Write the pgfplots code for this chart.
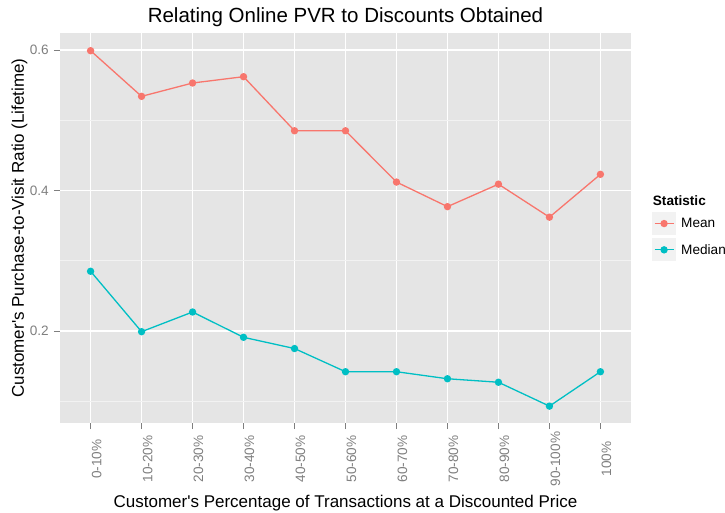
\documentclass[border=0pt]{standalone}
\usepackage{fontspec}
\setmainfont{Liberation Sans}
\usepackage{pgfplots}
\usepackage{pgfplotstable}
\pgfplotsset{compat=1.18}
\definecolor{meanc}{HTML}{F8766D}
\definecolor{medc}{HTML}{00BFC4}
\definecolor{panelbg}{HTML}{E5E5E5}
\definecolor{minorg}{HTML}{F2F2F2}
\definecolor{keybg}{HTML}{F2F2F2}
\definecolor{tickg}{HTML}{7F7F7F}
\pgfplotstableread{
x mean median
0 0.599 0.285
1 0.534 0.199
2 0.553 0.227
3 0.562 0.191
4 0.485 0.175
5 0.485 0.142
6 0.412 0.142
7 0.377 0.132
8 0.409 0.127
9 0.362 0.093
10 0.423 0.142
}\datatable
\begin{document}
\begin{tikzpicture}
\useasboundingbox (0,0) rectangle (725bp,513bp);
\begin{axis}[
  at={(60bp,90bp)}, anchor=south west,
  scale only axis, width=571bp, height=390bp,
  xmin=-0.6, xmax=10.6, ymin=0.069, ymax=0.6242,
  axis background/.style={fill=panelbg},
  axis line style={draw=none},
  tick pos=left, tick align=outside,
  major tick length=6bp, minor tick length=0pt,
  tick style={draw=tickg, line width=0.8bp},
  xtick={0,1,2,3,4,5,6,7,8,9,10},
  xticklabels={0-10\%,10-20\%,20-30\%,30-40\%,40-50\%,50-60\%,60-70\%,70-80\%,80-90\%,90-100\%,100\%},
  ytick={0.2,0.4,0.6}, yticklabels={0.2,0.4,0.6},
  minor ytick={0.1,0.3,0.5},
  xmajorgrids, ymajorgrids, yminorgrids,
  major grid style={draw=white, line width=1.1bp},
  minor grid style={draw=minorg, line width=0.6bp},
  x tick label style={yshift=-30bp, xshift=6bp, rotate=90, anchor=center, inner sep=0pt,
     font=\fontsize{13.6bp}{16bp}\selectfont, text=tickg},
  y tick label style={anchor=east, inner sep=0pt, xshift=-5bp,
     font=\fontsize{13.6bp}{16bp}\selectfont, text=tickg},
  /pgf/number format/assume math mode=true,
  title={Relating Online PVR to Discounts Obtained},
  title style={at={(axis description cs:0.5,1.0128)}, anchor=base, inner sep=0pt,
     font=\fontsize{20.5bp}{24bp}\selectfont},
  xlabel={Customer\textquotesingle s Percentage of Transactions at a Discounted Price},
  xlabel style={at={(axis description cs:0.5,-0.2154)}, anchor=base, inner sep=0pt,
     font=\fontsize{17bp}{20bp}\selectfont},
  ylabel={Customer\textquotesingle s Purchase-to-Visit Ratio (Lifetime)},
  ylabel style={at={(axis description cs:-0.0709,0.5)}, anchor=center, inner sep=0pt,
     font=\fontsize{17bp}{20bp}\selectfont},
  legend cell align=left,
  legend style={at={(axis description cs:1.0363,0.5418)}, anchor=north west,
     draw=none, fill=none, inner sep=0pt, row sep=3bp, column sep=5bp,
     nodes={inner sep=0pt}, font=\fontsize{13.6bp}{16bp}\selectfont},
  legend image code/.code={
     \fill[keybg] (0bp,-11bp) rectangle (23bp,11bp);
     \draw[mark repeat=2,mark phase=2,#1] plot coordinates {(2bp,0bp) (11.5bp,0bp) (21bp,0bp)};
  },
]
\addplot[color=meanc, line width=1.3bp, mark=*, mark size=3bp, mark options={fill=meanc, draw=meanc}] table[x=x, y=mean] {\datatable};
\addlegendentry{Mean}
\addplot[color=medc, line width=1.3bp, mark=*, mark size=3bp, mark options={fill=medc, draw=medc}] table[x=x, y=median] {\datatable};
\addlegendentry{Median}
\end{axis}
\node[anchor=base west, inner sep=0pt, font=\fontsize{13.6bp}{16bp}\selectfont\bfseries] at (652.7bp,307.3bp) {Statistic};
\end{tikzpicture}
\end{document}
